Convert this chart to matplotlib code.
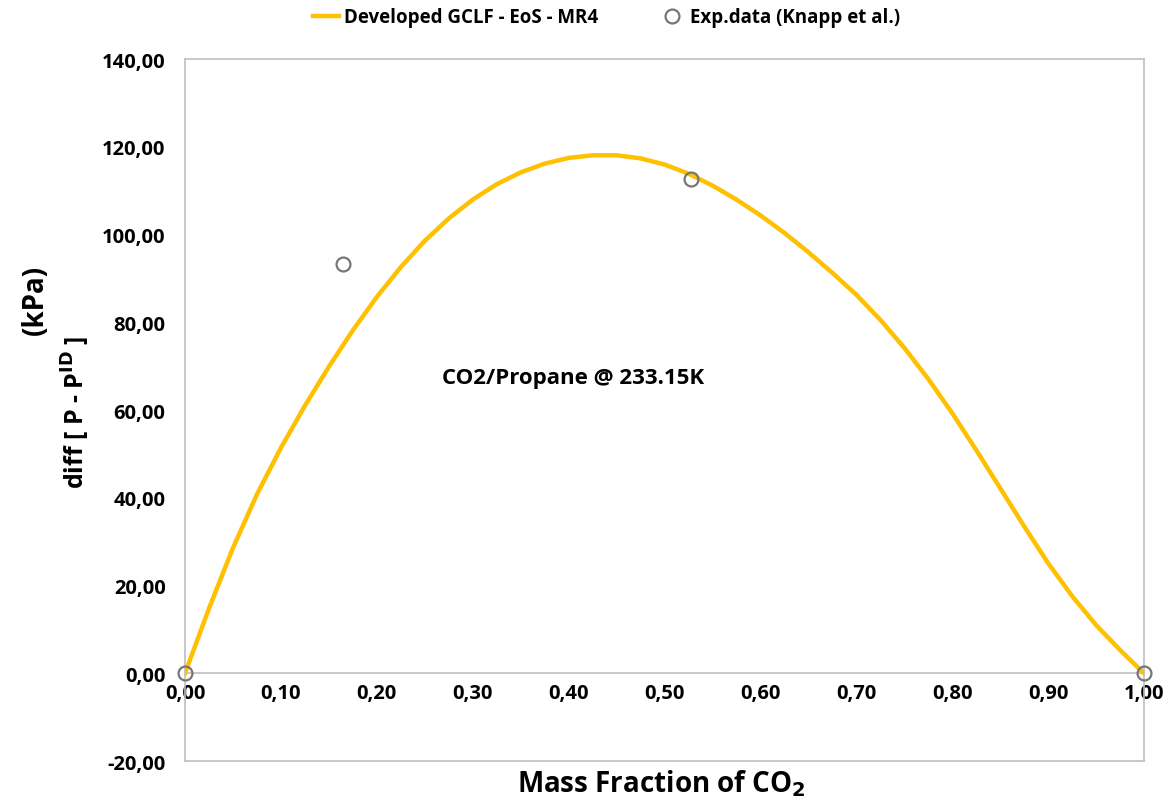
import matplotlib
matplotlib.use("Agg")
import matplotlib.pyplot as plt
from matplotlib.ticker import FuncFormatter, MultipleLocator

# model curve
x_model = [0.0, 0.025, 0.05, 0.075, 0.1, 0.125, 0.15, 0.175, 0.2, 0.225,
           0.25, 0.275, 0.3, 0.325, 0.35, 0.375, 0.4, 0.425, 0.45, 0.475,
           0.5, 0.525, 0.55, 0.575, 0.6, 0.625, 0.65, 0.675, 0.7, 0.725,
           0.75, 0.775, 0.8, 0.825, 0.85, 0.875, 0.9, 0.925, 0.95, 0.975, 1.0]
y_model = [0.0, 14.8, 28.6, 40.8, 51.4, 61.0, 69.9, 78.2, 85.8, 92.6,
           98.6, 103.7, 108.0, 111.5, 114.2, 116.2, 117.5, 118.1, 118.1, 117.4,
           116.0, 113.9, 111.2, 108.0, 104.4, 100.4, 96.0, 91.3, 86.3, 80.6,
           74.2, 67.1, 59.3, 50.9, 42.2, 33.5, 25.1, 17.6, 11.0, 5.3, 0.0]

# experimental points
x_exp = [0.0, 0.165, 0.528, 1.0]
y_exp = [0.0, 93.4, 112.8, 0.0]

plt.rcParams['font.family'] = ['Open Sans', 'DejaVu Sans']
plt.rcParams['font.weight'] = 'bold'
plt.rcParams['axes.labelweight'] = 'bold'

fig = plt.figure(figsize=(11.71, 8.03), dpi=100)
ax = fig.add_axes([0.158, 0.051, 0.819, 0.874])

ax.plot(x_model, y_model, color='#FFC000', lw=3.2, label='Developed GCLF - EoS - MR4',
        zorder=3, solid_joinstyle='round')
ax.plot(x_exp, y_exp, 'o', mfc='none', mec='#767676', mew=1.6, ms=10,
        label='Exp.data (Knapp et al.)', zorder=4, clip_on=False)

ax.set_xlim(0, 1)
ax.set_ylim(-20, 140)
ax.xaxis.set_major_locator(MultipleLocator(0.1))
ax.yaxis.set_major_locator(MultipleLocator(20))
fmt = FuncFormatter(lambda v, p: ('%.2f' % v).replace('.', ','))
ax.xaxis.set_major_formatter(fmt)
ax.yaxis.set_major_formatter(fmt)
ax.tick_params(length=0, labelsize=14.5, pad=7)
ax.tick_params(axis='y', pad=14)

for s in ax.spines.values():
    s.set_color('#bfbfbf')
    s.set_linewidth(1.2)
ax.spines['bottom'].set_position(('data', 0))
ax.axhline(-20, color='#bfbfbf', lw=1.2, clip_on=False)

ax.text(0.405, 67.4, 'CO2/Propane @ 233.15K', fontsize=16, ha='center', va='center')

fig.text(0.565, 0.024, 'Mass Fraction of CO$_\\mathbf{2}$', fontsize=20,
         ha='center', va='center')
fig.text(0.03, 0.626, '(kPa)', rotation=90, fontsize=20, ha='center', va='center')
fig.text(0.064, 0.486, 'diff [ P - P$^{\\mathbf{ID}}$ ]', rotation=90, fontsize=18,
         ha='center', va='center')

fig.legend(loc='center', bbox_to_anchor=(0.518, 0.977), ncol=2, frameon=False,
           fontsize=13.5, handlelength=1.4, columnspacing=3.2, handletextpad=0.3)

fig.savefig('out.png', dpi=100)
